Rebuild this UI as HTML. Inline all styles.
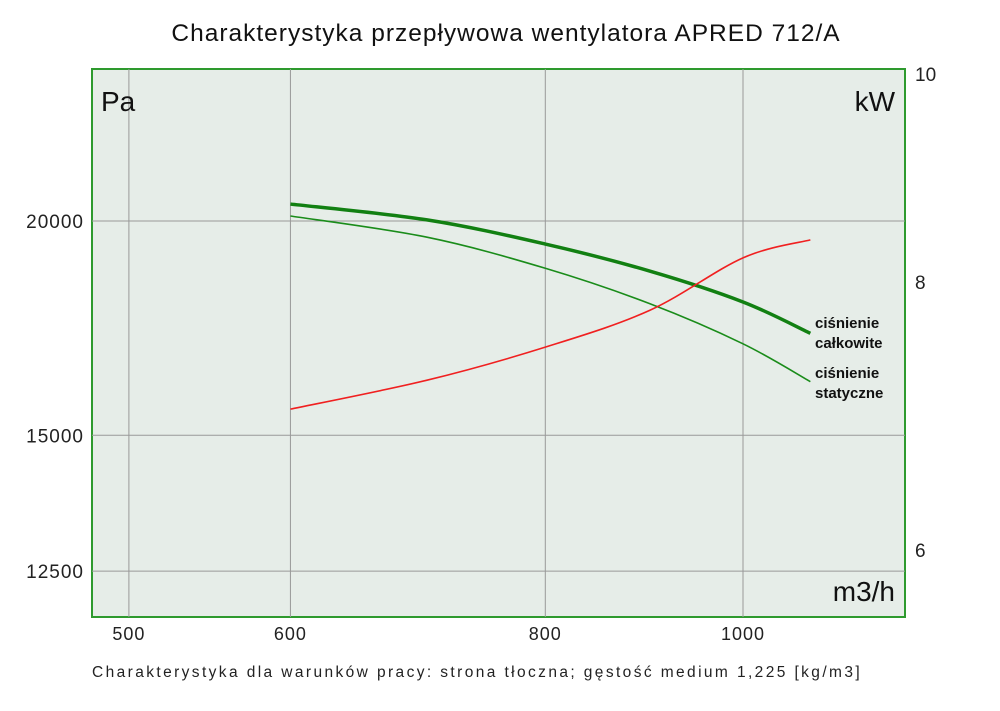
<!DOCTYPE html>
<html><head><meta charset="utf-8">
<style>
body{margin:0;background:#fff;width:1000px;height:706px;overflow:hidden;font-family:"Liberation Sans",sans-serif;}
svg text{font-family:"Liberation Sans",sans-serif;}
</style></head>
<body>
<svg id="chart" width="1000" height="706" xmlns="http://www.w3.org/2000/svg">
<text x="506" y="41" text-anchor="middle" font-size="24.5" fill="#111" letter-spacing="1">Charakterystyka przepływowa wentylatora APRED 712/A</text>
<rect x="92" y="69" width="813" height="548" fill="#e6ede8" stroke="#2e9a2e" stroke-width="2"/>
<g id="grid"></g>
<g id="series"></g>
<text x="101" y="111" font-size="28" fill="#111">Pa</text>
<text x="895" y="111" font-size="28" fill="#111" text-anchor="end">kW</text>
<text x="895" y="601" font-size="28" fill="#111" text-anchor="end">m3/h</text>
<text x="815" y="328" font-size="15" font-weight="bold" fill="#111">ciśnienie</text>
<text x="815" y="348" font-size="15" font-weight="bold" fill="#111">całkowite</text>
<text x="815" y="378" font-size="15" font-weight="bold" fill="#111">ciśnienie</text>
<text x="815" y="398" font-size="15" font-weight="bold" fill="#111">statyczne</text>
<text x="92" y="677" font-size="15.5" fill="#222" letter-spacing="2.4">Charakterystyka dla warunków pracy: strona tłoczna; gęstość medium 1,225 [kg/m3]</text>
</svg>
<script>
const xTicks=[500,600,800,1000];
const yLeftTicks=[12500,15000,20000];
const yRightTicks=[6,8,10];
const flow=[600,700,800,900,1000,1079];
const totalPressure=[20460,20030,19390,18700,17940,17200];
const staticPressure=[20135,19570,18770,17900,16960,16120];
const power=[6.98,7.20,7.46,7.76,8.21,8.37];
const powerFlow=[600,700,800,900,1000,1079];

const xs=v=>743+2040*Math.log10(v/1000);
const yl=v=>221-1715*Math.log10(v/20000);
const yr=v=>282-2146*Math.log10(v/8);
const NS="http://www.w3.org/2000/svg";
const grid=document.getElementById('grid'), ser=document.getElementById('series'), svg=document.getElementById('chart');
function mk(tag,attrs,parent){const e=document.createElementNS(NS,tag);for(const k in attrs)e.setAttribute(k,attrs[k]);parent.appendChild(e);return e;}
xTicks.forEach(t=>{
 const x=xs(t);
 const l=mk('line',{x1:x,x2:x,y1:69,y2:617,stroke:'#999','stroke-width':1},grid);
 
 
 const tx=mk('text',{x:x,y:640,'text-anchor':'middle','font-size':18,fill:'#222','letter-spacing':1},svg);
 tx.textContent=t;
 
 
});
yLeftTicks.forEach(t=>{
 const y=yl(t);
 const l=mk('line',{x1:92,x2:905,y1:y,y2:y,stroke:'#999','stroke-width':1},grid);
 
 
 const tx=mk('text',{x:84,y:y+7,'text-anchor':'end','font-size':19,fill:'#222','letter-spacing':1},svg);
 tx.textContent=t;
 
 
});
yRightTicks.forEach(t=>{
 const y=yr(t);
 const tx=mk('text',{x:915,y:y+7,'font-size':19,fill:'#222'},svg);
 tx.textContent=t;
 
 
});
function smooth(pts){
 let d=`M${pts[0][0]},${pts[0][1]}`;
 for(let i=0;i<pts.length-1;i++){
  const p0=pts[i-1]||pts[i],p1=pts[i],p2=pts[i+1],p3=pts[i+2]||p2;
  const c1=[p1[0]+(p2[0]-p0[0])/6,p1[1]+(p2[1]-p0[1])/6];
  const c2=[p2[0]-(p3[0]-p1[0])/6,p2[1]-(p3[1]-p1[1])/6];
  d+=` C${c1[0]},${c1[1]} ${c2[0]},${c2[1]} ${p2[0]},${p2[1]}`;
 }
 return d;
}
const p1=mk('path',{d:smooth(flow.map((f,i)=>[xs(f),yl(staticPressure[i])])),fill:'none',stroke:'#1a8c1a','stroke-width':1.6},ser);


const p2=mk('path',{d:smooth(flow.map((f,i)=>[xs(f),yl(totalPressure[i])])),fill:'none',stroke:'#128012','stroke-width':3.5},ser);


const p3=mk('path',{d:smooth(powerFlow.map((f,i)=>[xs(f),yr(power[i])])),fill:'none',stroke:'#f02020','stroke-width':1.6},ser);


</script>
</body></html>
